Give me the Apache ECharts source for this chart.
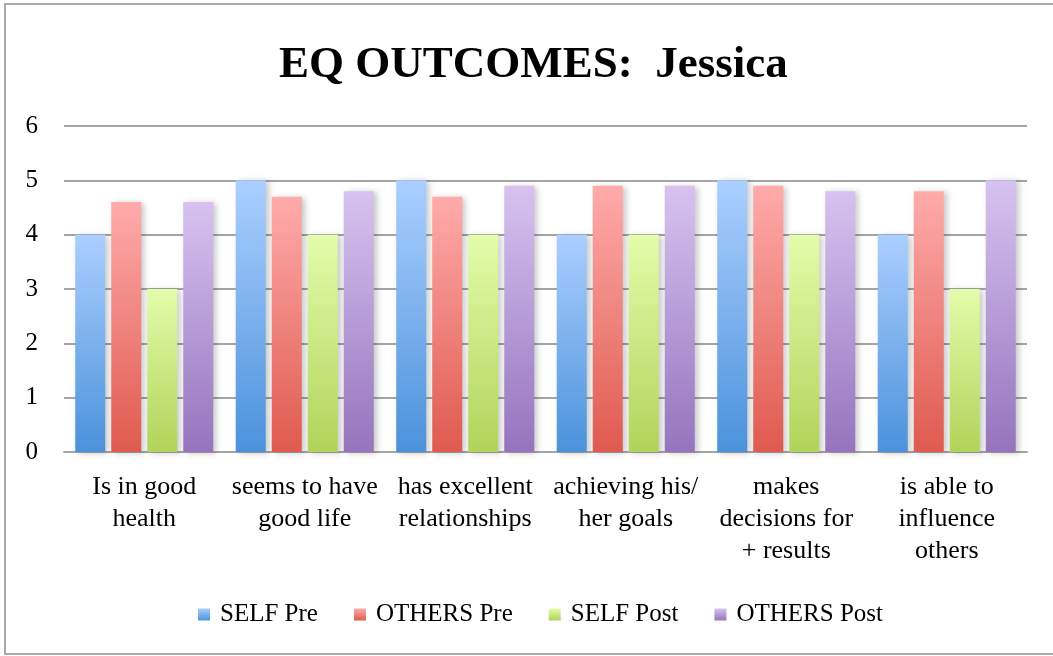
<!DOCTYPE html>
<html>
<head>
<meta charset="utf-8">
<script src="https://cdn.jsdelivr.net/npm/echarts@6/dist/echarts.min.js"></script>
<style>
  html, body { margin: 0; padding: 0; background: #fff; }
  #chart { width: 1053px; height: 656px; }
</style>
</head>
<body>
<div id="chart"></div>
<script>
// Categories (x-axis) and the four rating series
const categories = [
  'Is in good\nhealth',
  'seems to have\ngood life',
  'has excellent\nrelationships',
  'achieving his/\nher goals',
  'makes\ndecisions for\n+ results',
  'is able to\ninfluence\nothers'
];
const selfPre     = [4, 5, 5, 4, 5, 4];
const othersPre   = [4.6, 4.7, 4.7, 4.9, 4.9, 4.8];
const selfPost    = [3, 4, 4, 4, 4, 3];
const othersPost  = [4.6, 4.8, 4.9, 4.9, 4.8, 5];
const seriesNames = ['SELF Pre', 'OTHERS Pre', 'SELF Post', 'OTHERS Post'];
const yTicks = [0, 1, 2, 3, 4, 5, 6];

const FONT = '"Liberation Serif", "DejaVu Serif", serif';

// Vertical gradients: light at the top, saturated at the base
const palettes = [
  ['#abcfff', '#4b92db'],
  ['#ffabab', '#df5a4f'],
  ['#e3fcab', '#b0d45a'],
  ['#d6c3f0', '#9674bd']
];
function grad(p) {
  return new echarts.graphic.LinearGradient(0, 0, 0, 1, [
    { offset: 0, color: p[0] },
    { offset: 1, color: p[1] }
  ]);
}

const values = [selfPre, othersPre, selfPost, othersPost];
const series = values.map((v, i) => ({
  name: seriesNames[i],
  type: 'bar',
  data: v,
  barGap: '20%',
  barCategoryGap: '14%',
  itemStyle: {
    color: grad(palettes[i]),
    shadowColor: 'rgba(0,0,0,0.22)',
    shadowBlur: 6,
    shadowOffsetX: 3,
    shadowOffsetY: 1
  }
}));

const chart = echarts.init(document.getElementById('chart'), null, { renderer: 'canvas' });
chart.setOption({
  backgroundColor: '#ffffff',
  animation: false,
  title: {
    text: 'EQ OUTCOMES:  Jessica',
    left: 274,
    top: 38,
    textStyle: { fontFamily: FONT, fontWeight: 'bold', fontSize: 45, color: '#000' }
  },
  graphic: [{
    type: 'rect',
    shape: { x: 5, y: 4, width: 1100, height: 650 },
    style: { fill: 'none', stroke: '#a9a9a9', lineWidth: 2 },
    silent: true
  }],
  legend: {
    top: 597,
    left: 193,
    itemWidth: 12,
    itemHeight: 12,
    itemGap: 36,
    icon: 'rect',
    textStyle: { fontFamily: FONT, fontSize: 25, color: '#000', padding: [0, 0, 0, 5] },
    data: seriesNames
  },
  grid: { left: 64, right: 26, top: 126, bottom: 204, containLabel: false },
  xAxis: {
    type: 'category',
    data: categories,
    axisLine: { lineStyle: { color: '#a5a5a5', width: 2 } },
    axisTick: { show: false },
    axisLabel: {
      interval: 0,
      margin: 19,
      lineHeight: 32,
      fontFamily: FONT,
      fontSize: 26,
      color: '#000'
    }
  },
  yAxis: {
    type: 'value',
    min: 0,
    max: 6,
    interval: 1,
    axisLine: { show: false },
    axisTick: { show: false },
    axisLabel: {
      margin: 26,
      fontFamily: FONT,
      fontSize: 25,
      color: '#000',
      formatter: v => (yTicks.indexOf(v) >= 0 ? String(v) : '')
    },
    splitLine: { lineStyle: { color: '#a5a5a5', width: 2 } }
  },
  series: series
});
</script>
</body>
</html>
